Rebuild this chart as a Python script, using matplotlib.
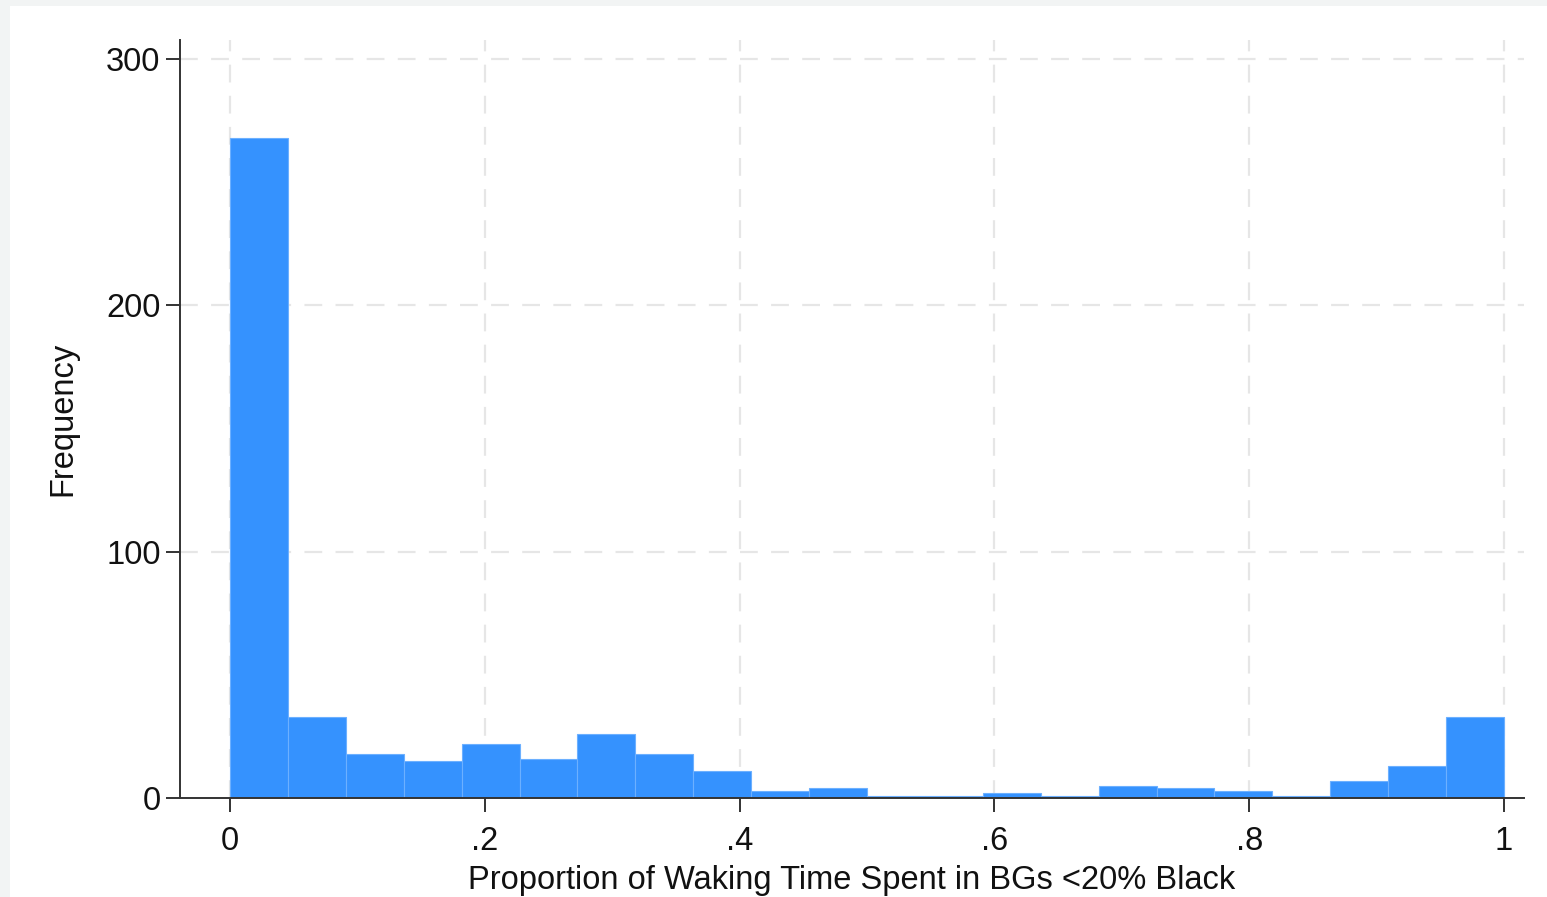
import matplotlib.pyplot as plt
import numpy as np
from matplotlib.patches import Rectangle

plt.rcParams['font.family'] = ['Liberation Sans', 'DejaVu Sans']

# histogram: 22 equal bins over [0, 1]
bin_lo = 0.0
bin_hi = 1.0
n_bins = 22
counts = [268, 33, 18, 15, 22, 16, 26, 18, 11, 3, 4, 1,
          1, 2, 1, 5, 4, 3, 1, 7, 13, 33]

xticks = [0, 0.2, 0.4, 0.6, 0.8, 1.0]
xticklabels = ['0', '.2', '.4', '.6', '.8', '1']
yticks = [0, 100, 200, 300]

edges = np.linspace(bin_lo, bin_hi, n_bins + 1)

fig = plt.figure(figsize=(15.47, 8.97), dpi=100, facecolor='#f2f4f4')
# white plot region inside the light frame
fig.patches.append(Rectangle((10 / 1547, 0), 1, 1 - 6 / 897,
                             transform=fig.transFigure, facecolor='white',
                             edgecolor='none', zorder=-10))

ax = fig.add_axes([180 / 1547, 1 - 798 / 897, 1344 / 1547, 758 / 897])
ax.set_facecolor('white')

ax.bar(edges[:-1], counts, width=np.diff(edges), align='edge',
       color='#3592fe', edgecolor='#6cb0ff', linewidth=0.8, zorder=3)

ax.set_xlim(-0.0392, 1.0157)
ax.set_ylim(0, 307.7)

ax.set_xticks(xticks)
ax.set_xticklabels(xticklabels)
ax.set_yticks(yticks)

for x in xticks:
    ax.axvline(x, color='#e6e6e6', lw=1.6, ls=(0, (8, 6)), zorder=1)
for y in yticks[1:]:
    ax.axhline(y, color='#e6e6e6', lw=1.6, ls=(0, (8, 6)), zorder=1)

for side in ['top', 'right']:
    ax.spines[side].set_visible(False)
for side in ['left', 'bottom']:
    ax.spines[side].set_color('#333333')
    ax.spines[side].set_linewidth(1.4)
    ax.spines[side].set_zorder(4)

ax.tick_params(axis='both', length=10, width=1.4, color='#333333',
               labelsize=23.5, labelcolor='#111111')
ax.tick_params(axis='x', pad=10)
ax.tick_params(axis='y', pad=4)

ax.set_xlabel('Proportion of Waking Time Spent in BGs <20% Black',
              fontsize=23.5, color='#111111', labelpad=6)
ax.set_ylabel('Frequency', fontsize=23.5, color='#111111', labelpad=20)

fig.savefig('out.png', dpi=100, facecolor=fig.get_facecolor())
